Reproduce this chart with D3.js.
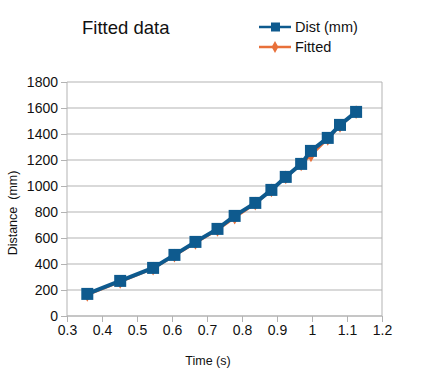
<!DOCTYPE html>
<html>
<head>
<meta charset="utf-8">
<script src="https://cdn.jsdelivr.net/npm/d3@7"></script>
<style>
  html, body { margin: 0; padding: 0; background: #fff; overflow: hidden; }
  svg { display: block; overflow: visible; }
  text { font-family: "Liberation Sans", Arial, sans-serif; fill: #111; }
</style>
</head>
<body>
<svg width="435" height="389"></svg>
<script>
const times = [0.358, 0.452, 0.546, 0.607, 0.667, 0.730, 0.779, 0.838, 0.884, 0.925, 0.969, 0.997, 1.045, 1.080, 1.126];
const dist = [170, 270, 370, 470, 570, 670, 770, 870, 970, 1070, 1170, 1270, 1370, 1470, 1570];
const fitted = [162, 262, 364, 464, 562, 662, 756, 864, 966, 1066, 1166, 1236, 1362, 1462, 1568];
const xTicks = [0.3, 0.4, 0.5, 0.6, 0.7, 0.8, 0.9, 1, 1.1, 1.2];
const yTicks = [0, 200, 400, 600, 800, 1000, 1200, 1400, 1600, 1800];

const svg = d3.select('svg');
const margin = {top: 82, right: 53, bottom: 73, left: 67};
const width = +svg.attr('width');
const height = +svg.attr('height');
const innerWidth = width - margin.left - margin.right;
const innerHeight = height - margin.top - margin.bottom;

const blue = '#0e5a8e';
const orange = '#e8703a';
const font = '"Liberation Sans", Arial, sans-serif';

const g = svg.append('g').attr('transform', `translate(${margin.left}, ${margin.top})`);

const xScale = d3.scaleLinear().domain([0.3, 1.2]).range([0, innerWidth]);
const yScale = d3.scaleLinear().domain([0, 1800]).range([innerHeight, 0]);

// gridlines
g.append('g').selectAll('line').data(yTicks).join('line')
  .attr('x1', 0).attr('x2', innerWidth)
  .attr('y1', d => yScale(d)).attr('y2', d => yScale(d))
  .attr('stroke', '#b3b3b3').attr('stroke-width', 1);

g.append('line')
  .attr('x1', innerWidth).attr('x2', innerWidth)
  .attr('y1', 0).attr('y2', innerHeight)
  .attr('stroke', '#b3b3b3');

const yAxis = d3.axisLeft(yScale).tickValues(yTicks).tickSize(6).tickPadding(3).tickFormat(d3.format('d'));
const yAxisG = g.append('g').call(yAxis).attr('font-size', 14).attr('font-family', font);
yAxisG.selectAll('line, path').attr('stroke', '#b3b3b3');
yAxisG.select('.domain').attr('d', `M0,0V${innerHeight}`);
yAxisG.selectAll('text').attr('fill', '#111');

const xAxis = d3.axisBottom(xScale).tickValues(xTicks).tickSize(6).tickPadding(3).tickFormat(d => String(d));
const xAxisG = g.append('g').attr('transform', `translate(0, ${innerHeight})`).call(xAxis)
  .attr('font-size', 14).attr('font-family', font);
xAxisG.selectAll('line, path').attr('stroke', '#b3b3b3');
xAxisG.select('.domain').attr('d', `M0,0H${innerWidth}`);
xAxisG.selectAll('text').attr('fill', '#111');

// axis titles
svg.append('text')
  .attr('x', 208).attr('y', 365)
  .attr('text-anchor', 'middle').attr('font-size', 12.5)
  .text('Time (s)');

svg.append('text')
  .attr('transform', 'translate(17, 213) rotate(-90)')
  .attr('text-anchor', 'middle').attr('font-size', 12.5)
  .attr('xml:space', 'preserve')
  .text('Distance  (mm)');

// title
svg.append('text')
  .attr('x', 82).attr('y', 34)
  .attr('font-size', 18.5)
  .text('Fitted data');

const lineGen = yv => d3.line()
  .x((d, i) => xScale(times[i]))
  .y(d => yScale(d))(yv);

// fitted series
g.append('path').attr('d', lineGen(fitted))
  .attr('fill', 'none').attr('stroke', orange).attr('stroke-width', 2.5);
g.append('g').selectAll('path').data(fitted).join('path')
  .attr('d', d3.symbol(d3.symbolDiamond, 55))
  .attr('transform', (d, i) => `translate(${xScale(times[i])}, ${yScale(d)})`)
  .attr('fill', orange);

// dist series
g.append('path').attr('d', lineGen(dist))
  .attr('fill', 'none').attr('stroke', blue).attr('stroke-width', 4);
g.append('g').selectAll('rect').data(dist).join('rect')
  .attr('x', (d, i) => xScale(times[i]) - 6)
  .attr('y', d => yScale(d) - 6)
  .attr('width', 12).attr('height', 12)
  .attr('fill', blue);

// legend
const legend = svg.append('g').attr('transform', 'translate(259, 0)');
const legendItems = [
  {label: 'Dist (mm)', color: blue, y: 27, shape: 'square'},
  {label: 'Fitted', color: orange, y: 47, shape: 'diamond'}
];
legendItems.forEach(item => {
  legend.append('line')
    .attr('x1', 0).attr('x2', 32).attr('y1', item.y).attr('y2', item.y)
    .attr('stroke', item.color).attr('stroke-width', 2.5);
  if (item.shape === 'square') {
    legend.append('rect').attr('x', 12).attr('y', item.y - 4.5)
      .attr('width', 9).attr('height', 9).attr('fill', item.color);
  } else {
    legend.append('path').attr('d', d3.symbol(d3.symbolDiamond, 40))
      .attr('transform', `translate(16, ${item.y})`).attr('fill', item.color);
  }
  legend.append('text')
    .attr('x', 36).attr('y', item.y + 5)
    .attr('font-size', 14.5)
    .text(item.label);
});
</script>
</body>
</html>
